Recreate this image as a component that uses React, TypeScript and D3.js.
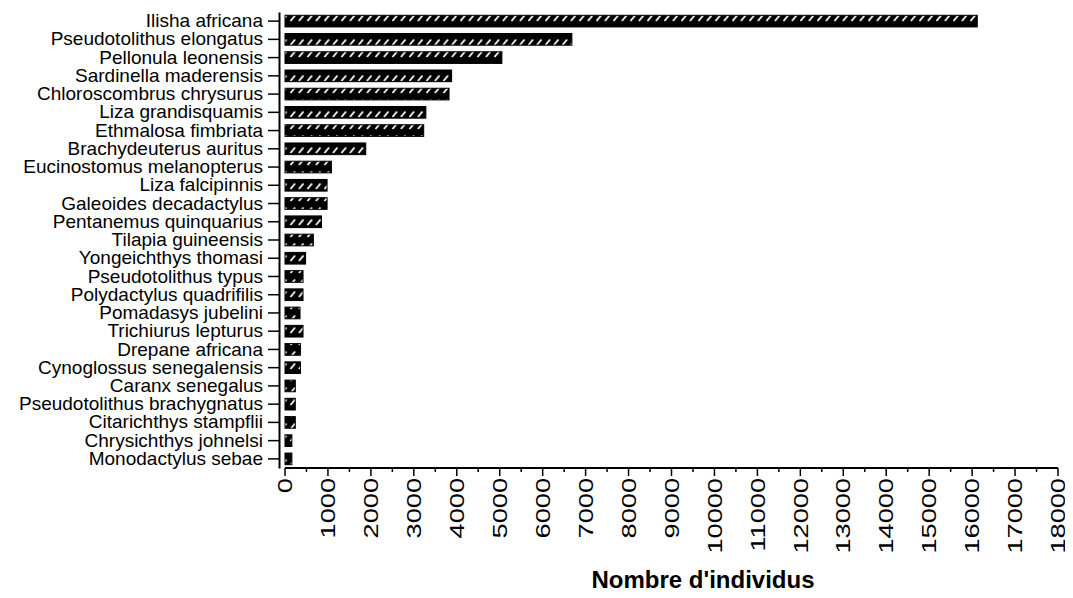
import React, { useEffect, useRef } from 'react';
import * as d3 from 'd3';

const species = [
    'Ilisha africana', 'Pseudotolithus elongatus', 'Pellonula leonensis', 'Sardinella maderensis',
    'Chloroscombrus chrysurus', 'Liza grandisquamis', 'Ethmalosa fimbriata', 'Brachydeuterus auritus',
    'Eucinostomus melanopterus', 'Liza falcipinnis', 'Galeoides decadactylus', 'Pentanemus quinquarius',
    'Tilapia guineensis', 'Yongeichthys thomasi', 'Pseudotolithus typus', 'Polydactylus quadrifilis',
    'Pomadasys jubelini', 'Trichiurus lepturus', 'Drepane africana', 'Cynoglossus senegalensis',
    'Caranx senegalus', 'Pseudotolithus brachygnatus', 'Citarichthys stampflii', 'Chrysichthys johnelsi',
    'Monodactylus sebae',
];
const counts = [
    16120, 6680, 5050, 3880, 3820, 3280, 3230, 1880,
    1080, 980, 980, 850, 660, 480, 420, 420,
    350, 420, 360, 360, 240, 240, 240, 160, 160,
];
const xTicks = d3.range(0, 18001, 1000);
const xMinor = d3.range(500, 18000, 1000);
const xTitle = "Nombre d'individus";

const Chart: React.FC = () => {
    const svgRef = useRef<SVGSVGElement>(null);

    useEffect(() => {
        if (!svgRef.current) return;
        const svg = d3.select(svgRef.current);
        svg.selectAll('*').remove();
        const font = "'Liberation Sans', Arial, Helvetica, sans-serif";

        const x = d3.scaleLinear().domain([0, 18000]).range([285, 1058]);
        const y = d3.scaleBand<string>().domain(species).range([12, 468]).paddingInner(0.36).paddingOuter(0.18);

        // black fill with short white diagonal dashes
        const defs = svg.append('defs');
        const pat = defs.append('pattern')
            .attr('id', 'hatch')
            .attr('patternUnits', 'userSpaceOnUse')
            .attr('width', 8.5)
            .attr('height', 12);
        pat.append('rect').attr('width', 8.5).attr('height', 12).attr('fill', '#000');
        pat.append('line')
            .attr('x1', 1.5).attr('y1', 9)
            .attr('x2', 6).attr('y2', 3.5)
            .attr('stroke', '#fff')
            .attr('stroke-width', 1.8);

        // bars
        svg.append('g')
            .selectAll('rect')
            .data(species)
            .join('rect')
            .attr('x', 285)
            .attr('y', d => y(d)!)
            .attr('width', (d, i) => x(counts[i]) - 285)
            .attr('height', y.bandwidth())
            .attr('fill', 'url(#hatch)')
            .attr('stroke', '#000')
            .attr('stroke-width', 1);

        // y axis
        const yAxis = d3.axisLeft(y).tickSize(11).tickPadding(5).tickSizeOuter(0);
        const gy = svg.append('g').attr('transform', 'translate(279,0)').call(yAxis);
        gy.select('.domain').attr('stroke-width', 2);
        gy.selectAll('.tick line').attr('stroke-width', 1.5);
        gy.selectAll('.tick text')
            .attr('font-family', font)
            .attr('font-size', 19)
            .attr('fill', '#000');

        // x axis
        const gx = svg.append('g').attr('transform', 'translate(0,468)');
        gx.append('line')
            .attr('x1', x(0)).attr('x2', x(18000))
            .attr('stroke', '#000').attr('stroke-width', 2);
        gx.selectAll('line.major')
            .data(xTicks)
            .join('line')
            .attr('class', 'major')
            .attr('x1', d => x(d)).attr('x2', d => x(d))
            .attr('y1', 0).attr('y2', 8)
            .attr('stroke', '#000').attr('stroke-width', 1.5);
        gx.selectAll('line.minor')
            .data(xMinor)
            .join('line')
            .attr('class', 'minor')
            .attr('x1', d => x(d)).attr('x2', d => x(d))
            .attr('y1', 0).attr('y2', 4)
            .attr('stroke', '#000').attr('stroke-width', 1.5);
        gx.selectAll('text')
            .data(xTicks)
            .join('text')
            .attr('transform', d => `translate(${x(d)},10) rotate(-90) scale(1.36,1)`)
            .attr('text-anchor', 'end')
            .attr('dy', '0.36em')
            .attr('font-family', font)
            .attr('font-size', 20)
            .attr('fill', '#000')
            .text(d => String(d));

        svg.append('text')
            .attr('x', 703)
            .attr('y', 588)
            .attr('text-anchor', 'middle')
            .attr('font-family', font)
            .attr('font-size', 24)
            .attr('font-weight', 'bold')
            .attr('fill', '#000')
            .text(xTitle);
    }, []);

    return <svg ref={svgRef} width={1073} height={598} style={{ display: 'block', background: '#fff' }} />;
};

const App: React.FC = () => (
    <div style={{ margin: -8 }}>
        <Chart />
    </div>
);

export default App;
